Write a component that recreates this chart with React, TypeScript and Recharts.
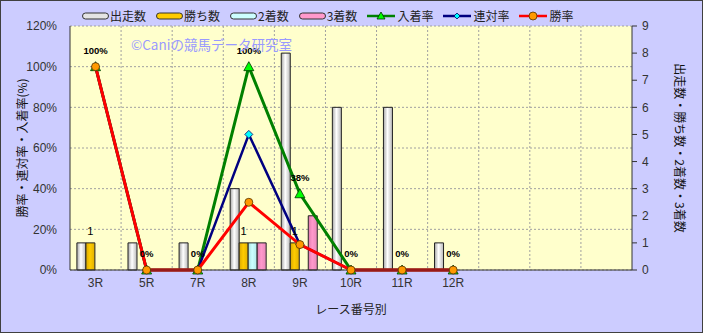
import { ComposedChart, Bar, Line, XAxis, YAxis, CartesianGrid, LabelList } from "recharts";

// categories (last three slots are empty on the original sheet)
const races = ["3R", "5R", "7R", "8R", "9R", "10R", "11R", "12R", " ", "  ", "   "];

// counts (right axis)
const starts = [1, 1, 1, 3, 8, 6, 6, 1, null, null, null];
const wins = [1, 0, 0, 1, 1, 0, 0, 0, null, null, null];
const seconds = [0, 0, 0, 1, 0, 0, 0, 0, null, null, null];
const thirds = [0, 0, 0, 1, 2, 0, 0, 0, null, null, null];

// rates in % (left axis)
const placeRate = [100, 0, 0, 100, 37.5, 0, 0, 0, null, null, null];
const quinellaRate = [100, 0, 0, 66.7, 12.5, 0, 0, 0, null, null, null];
const winRate = [100, 0, 0, 33.3, 12.5, 0, 0, 0, null, null, null];

const rateTicks = [0, 20, 40, 60, 80, 100, 120];
const countTicks = [0, 1, 2, 3, 4, 5, 6, 7, 8, 9];

const data = races.map((race, i) => ({
  race,
  starts: starts[i],
  wins: wins[i],
  seconds: seconds[i],
  thirds: thirds[i],
  placeRate: placeRate[i],
  quinellaRate: quinellaRate[i],
  winRate: winRate[i],
}));

const FONT = "'Liberation Sans', 'Noto Sans CJK JP', sans-serif";
const JP = "'Noto Sans CJK JP', 'Liberation Sans', sans-serif";

const bad = (v: any) => v == null || Number.isNaN(v);

const TriangleDot = (p: any) => {
  const { cx, cy, index, value } = p;
  if (bad(cy) || value == null) return <g key={`t${index}`} />;
  return (
    <path
      key={`t${index}`}
      d={`M${cx},${cy - 5} L${cx + 5},${cy + 4} L${cx - 5},${cy + 4} Z`}
      fill="#00ff00"
      stroke="#003300"
      strokeWidth={0.8}
    />
  );
};

const DiamondDot = (p: any) => {
  const { cx, cy, index, value } = p;
  if (bad(cy) || value == null) return <g key={`d${index}`} />;
  return (
    <path
      key={`d${index}`}
      d={`M${cx},${cy - 4} L${cx + 4},${cy} L${cx},${cy + 4} L${cx - 4},${cy} Z`}
      fill="#00ffff"
      stroke="#000066"
      strokeWidth={0.8}
    />
  );
};

const CircleDot = (p: any) => {
  const { cx, cy, index, value } = p;
  if (bad(cy) || value == null) return <g key={`c${index}`} />;
  return <circle key={`c${index}`} cx={cx} cy={cy} r={4} fill="#ff9900" stroke="#553300" strokeWidth={0.8} />;
};

const legendItems = [
  { name: "出走数", kind: "bar", fill: "#e4e4e4" },
  { name: "勝ち数", kind: "bar", fill: "#ffcc00" },
  { name: "2着数", kind: "bar", fill: "#ccffff" },
  { name: "3着数", kind: "bar", fill: "#ff99cc" },
  { name: "入着率", kind: "tri", stroke: "#008000", fill: "#00ff00" },
  { name: "連対率", kind: "dia", stroke: "#000080", fill: "#00ffff" },
  { name: "勝率", kind: "dot", stroke: "#ff0000", fill: "#ff9900" },
];

const LegendRow = () => (
  <div
    style={{
      position: "absolute",
      left: 82,
      top: 8,
      display: "flex",
      alignItems: "center",
      gap: 10,
      fontFamily: JP,
      fontSize: 12,
      color: "#222",
      lineHeight: "16px",
    }}
  >
    {legendItems.map((it) => (
      <div key={it.name} style={{ display: "flex", alignItems: "center" }}>
        {it.kind === "bar" ? (
          <svg width={28} height={10}>
            <rect x={0.5} y={2} width={26} height={6} rx={3} fill={it.fill} stroke="#333" strokeWidth={1} />
          </svg>
        ) : (
          <svg width={28} height={10} style={{ marginRight: 2 }}>
            <line x1={0} y1={5} x2={28} y2={5} stroke={it.stroke} strokeWidth={2.5} />
            {it.kind === "tri" && <path d="M14,1 L18,8 L10,8 Z" fill={it.fill} stroke="#003300" strokeWidth={0.8} />}
            {it.kind === "dia" && <path d="M14,2 L17,5 L14,8 L11,5 Z" fill={it.fill} stroke="#000066" strokeWidth={0.8} />}
            {it.kind === "dot" && <circle cx={14} cy={5} r={4} fill={it.fill} stroke="#553300" strokeWidth={0.8} />}
          </svg>
        )}
        <span>{it.name}</span>
      </div>
    ))}
  </div>
);

const rateLabel = (v: any) => (v == null ? "" : `${Math.round(Number(v))}%`);
const countLabel = (v: any) => (v == null || v === 0 ? "" : `${v}`);

export default function App() {
  return (
    <div style={{ position: "absolute", left: 0, top: 0, width: 703, height: 333, background: "#ccccff" }}>
      <ComposedChart
        width={703}
        height={333}
        data={data}
        margin={{ top: 26, right: 0, bottom: 0, left: 0 }}
        barCategoryGap="13.5%"
        barGap={0}
      >
        <defs>
          <linearGradient id="gStarts" x1="0" y1="0" x2="1" y2="0">
            <stop offset="0%" stopColor="#a8a8a8" />
            <stop offset="45%" stopColor="#ffffff" />
            <stop offset="100%" stopColor="#b8b8b8" />
          </linearGradient>
          <linearGradient id="gWins" x1="0" y1="0" x2="1" y2="0">
            <stop offset="0%" stopColor="#d9a800" />
            <stop offset="45%" stopColor="#ffcc00" />
            <stop offset="100%" stopColor="#e0b000" />
          </linearGradient>
          <linearGradient id="gSeconds" x1="0" y1="0" x2="1" y2="0">
            <stop offset="0%" stopColor="#a8dede" />
            <stop offset="45%" stopColor="#ccffff" />
            <stop offset="100%" stopColor="#b0e6e6" />
          </linearGradient>
          <linearGradient id="gThirds" x1="0" y1="0" x2="1" y2="0">
            <stop offset="0%" stopColor="#e07aae" />
            <stop offset="45%" stopColor="#ff99cc" />
            <stop offset="100%" stopColor="#e888b8" />
          </linearGradient>
        </defs>
        <CartesianGrid
          yAxisId="left"
          fill="#ffffcc"
          stroke="#a0a0a0"
          strokeDasharray="2 2"
          verticalCoordinatesGenerator={({ offset }: any) =>
            races.slice(1).map((_, i) => offset.left + (offset.width * (i + 1)) / races.length)
          }
        />
        <XAxis
          dataKey="race"
          height={63}
          interval={0}
          tickLine={false}
          axisLine={{ stroke: "#333" }}
          tick={{ fill: "#333", fontSize: 12, fontFamily: FONT }}
          label={{ value: "レース番号別", position: "center", dy: 8, fill: "#222", fontSize: 12, fontFamily: JP }}
        />
        <YAxis
          yAxisId="left"
          width={70}
          domain={[0, 120]}
          ticks={rateTicks}
          tickFormatter={(v) => `${v}%`}
          tickLine={false}
          tickMargin={7}
          axisLine={{ stroke: "#333" }}
          tick={{ fill: "#333", fontSize: 12, fontFamily: FONT }}
          label={{
            value: "勝率・連対率・入着率(%)",
            angle: -90,
            position: "center",
            dx: -12,
            fill: "#111",
            fontSize: 12,
            fontFamily: JP,
          }}
        />
        <YAxis
          yAxisId="right"
          orientation="right"
          width={71}
          domain={[0, 9]}
          ticks={countTicks}
          tickSize={5}
          tickMargin={5}
          tickLine={{ stroke: "#333" }}
          axisLine={{ stroke: "#333" }}
          tick={{ fill: "#333", fontSize: 12, fontFamily: FONT }}
          label={{
            value: "出走数・勝ち数・2着数・3着数",
            angle: 90,
            position: "center",
            dx: 12,
            fill: "#111",
            fontSize: 12,
            fontFamily: JP,
          }}
        />
        <Bar yAxisId="right" dataKey="starts" name="出走数" fill="url(#gStarts)" stroke="#222" strokeWidth={1} isAnimationActive={false} />
        <Bar yAxisId="right" dataKey="wins" name="勝ち数" fill="url(#gWins)" stroke="#222" strokeWidth={1} isAnimationActive={false}>
          <LabelList dataKey="wins" position="top" offset={8} formatter={countLabel} fill="#000" fontSize={11} fontFamily={FONT} />
        </Bar>
        <Bar yAxisId="right" dataKey="seconds" name="2着数" fill="url(#gSeconds)" stroke="#222" strokeWidth={1} isAnimationActive={false} />
        <Bar yAxisId="right" dataKey="thirds" name="3着数" fill="url(#gThirds)" stroke="#222" strokeWidth={1} isAnimationActive={false} />
        <Line
          yAxisId="left"
          dataKey="placeRate"
          name="入着率"
          type="linear"
          stroke="#008000"
          strokeWidth={3}
          dot={TriangleDot}
          activeDot={false}
          connectNulls={false}
          isAnimationActive={false}
        >
          <LabelList
            dataKey="placeRate"
            position="top"
            offset={13}
            formatter={rateLabel}
            fill="#000"
            fontSize={9.5}
            fontWeight="bold"
            fontFamily={FONT}
          />
        </Line>
        <Line
          yAxisId="left"
          dataKey="quinellaRate"
          name="連対率"
          type="linear"
          stroke="#000080"
          strokeWidth={2.5}
          dot={DiamondDot}
          activeDot={false}
          connectNulls={false}
          isAnimationActive={false}
        />
        <Line
          yAxisId="left"
          dataKey="winRate"
          name="勝率"
          type="linear"
          stroke="#ff0000"
          strokeWidth={3}
          dot={CircleDot}
          activeDot={false}
          connectNulls={false}
          isAnimationActive={false}
        />
      </ComposedChart>
      <LegendRow />
      <div
        style={{
          position: "absolute",
          left: 131,
          top: 35,
          fontFamily: JP,
          fontSize: 13.5,
          color: "#9999ff",
          lineHeight: "18px",
          whiteSpace: "nowrap",
          pointerEvents: "none",
        }}
      >
        ©Caniの競馬データ研究室
      </div>
      <div
        style={{
          position: "absolute",
          inset: 0,
          border: "1px solid #404040",
          boxSizing: "border-box",
          pointerEvents: "none",
        }}
      />
    </div>
  );
}
